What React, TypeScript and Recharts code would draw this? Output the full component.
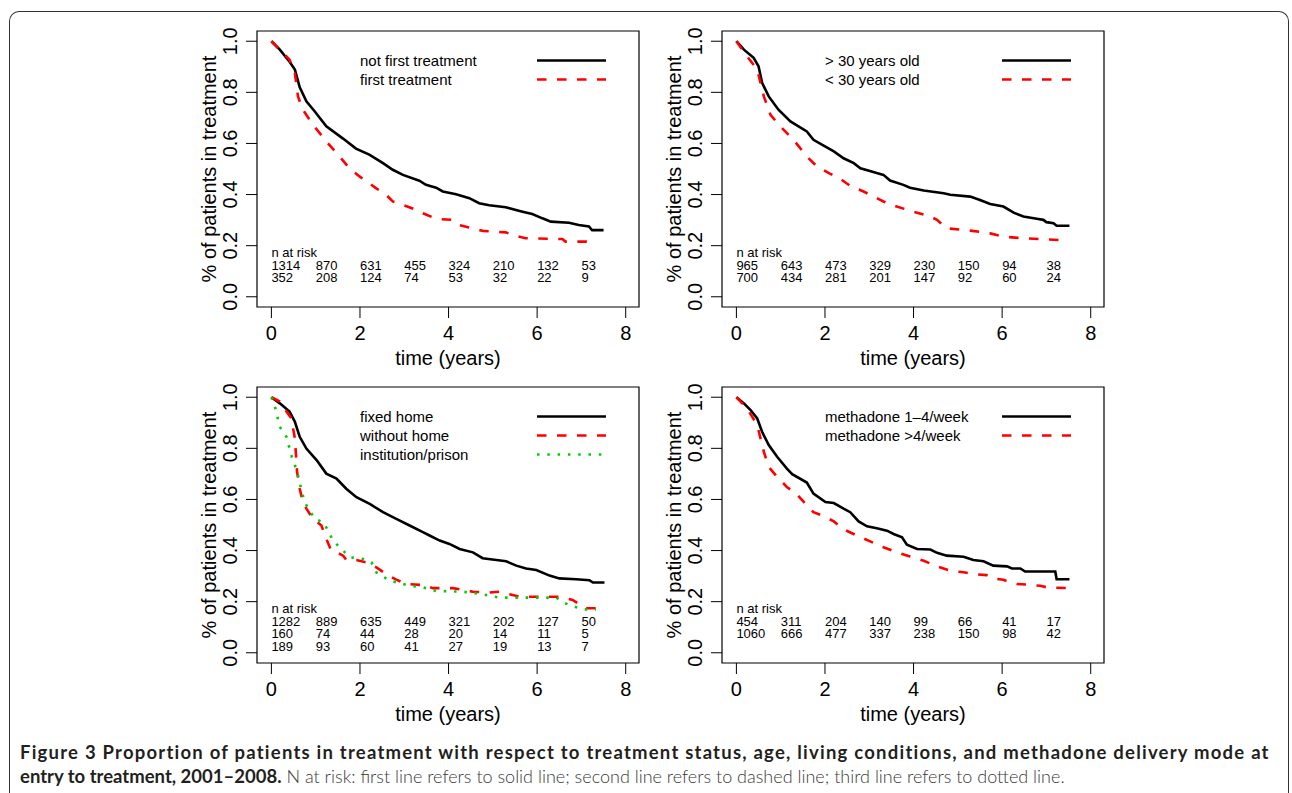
import React from 'react';
import { ComposedChart, Line, Scatter, XAxis, YAxis, Legend, ReferenceArea } from 'recharts';

// Kaplan-Meier curves as [years, proportion] pairs
const notFirstTreatment: [number, number][] = [
  [0, 1], [0.19, 0.967], [0.41, 0.92], [0.53, 0.889], [0.64, 0.82], [0.79, 0.765], [0.98, 0.725],
  [1.24, 0.667], [1.61, 0.62], [1.91, 0.58], [2.21, 0.556], [2.52, 0.523], [2.74, 0.497], [2.97, 0.477],
  [3.34, 0.454], [3.49, 0.438], [3.72, 0.427], [3.87, 0.412], [4.17, 0.401], [4.47, 0.386], [4.69, 0.366],
  [4.92, 0.358], [5.29, 0.35], [5.67, 0.333], [5.89, 0.324], [6.12, 0.307], [6.31, 0.294], [6.72, 0.29],
  [6.94, 0.281], [7.17, 0.275], [7.24, 0.261], [7.5, 0.261],
];
const firstTreatment: [number, number][] = [
  [0, 1], [0.41, 0.928], [0.53, 0.876], [0.6, 0.784], [0.71, 0.732], [0.94, 0.673], [1.24, 0.608],
  [1.54, 0.549], [1.76, 0.503], [1.99, 0.471], [2.21, 0.444], [2.36, 0.425], [2.59, 0.399], [2.74, 0.373],
  [2.97, 0.359], [3.27, 0.34], [3.42, 0.327], [3.72, 0.305], [4.09, 0.301], [4.24, 0.281], [4.54, 0.268],
  [4.77, 0.258], [5.29, 0.252], [5.52, 0.238], [5.74, 0.229], [6.57, 0.226], [6.64, 0.216], [7.24, 0.216],
];
const over30: [number, number][] = [
  [0, 1], [0.17, 0.967], [0.39, 0.935], [0.5, 0.902], [0.58, 0.837], [0.73, 0.784], [0.95, 0.732],
  [1.22, 0.686], [1.59, 0.647], [1.74, 0.614], [1.97, 0.591], [2.2, 0.569], [2.42, 0.542], [2.65, 0.523],
  [2.8, 0.503], [3.17, 0.484], [3.32, 0.477], [3.47, 0.455], [3.77, 0.438], [3.92, 0.427], [4.23, 0.416],
  [4.68, 0.405], [4.83, 0.399], [5.28, 0.392], [5.5, 0.379], [5.73, 0.363], [6.03, 0.353], [6.26, 0.329],
  [6.48, 0.314], [6.78, 0.305], [6.93, 0.301], [7.0, 0.292], [7.16, 0.288], [7.23, 0.278], [7.52, 0.278],
];
const under30: [number, number][] = [
  [0, 1], [0.24, 0.941], [0.47, 0.889], [0.62, 0.784], [0.77, 0.712], [0.99, 0.667], [1.29, 0.614],
  [1.59, 0.549], [1.82, 0.51], [2.12, 0.481], [2.27, 0.471], [2.57, 0.434], [2.87, 0.412], [3.02, 0.399],
  [3.32, 0.373], [3.62, 0.353], [4.0, 0.333], [4.38, 0.314], [4.53, 0.301], [4.75, 0.268], [5.28, 0.259],
  [5.73, 0.248], [6.03, 0.235], [6.48, 0.229], [7.31, 0.222], [7.5, 0.216],
];
const fixedHome: [number, number][] = [
  [0, 1], [0.19, 0.976], [0.41, 0.944], [0.53, 0.904], [0.64, 0.845], [0.79, 0.799], [1.02, 0.754],
  [1.24, 0.701], [1.47, 0.682], [1.69, 0.642], [1.92, 0.609], [2.22, 0.583], [2.52, 0.55], [2.82, 0.524],
  [3.12, 0.498], [3.42, 0.472], [3.57, 0.459], [3.8, 0.439], [4.02, 0.426], [4.25, 0.406], [4.55, 0.393],
  [4.77, 0.37], [5.08, 0.363], [5.3, 0.358], [5.53, 0.341], [5.75, 0.33], [5.98, 0.324], [6.28, 0.302],
  [6.5, 0.291], [6.88, 0.288], [7.18, 0.284], [7.26, 0.275], [7.52, 0.275],
];
const withoutHome: [number, number][] = [
  [0, 1], [0.19, 0.983], [0.34, 0.944], [0.45, 0.917], [0.53, 0.839], [0.58, 0.708], [0.64, 0.642],
  [0.71, 0.59], [0.79, 0.564], [0.94, 0.524], [1.13, 0.498], [1.24, 0.446], [1.35, 0.4], [1.47, 0.393],
  [1.62, 0.38], [1.69, 0.364], [1.92, 0.363], [2.14, 0.354], [2.37, 0.334], [2.59, 0.308], [2.82, 0.286],
  [3.05, 0.269], [3.42, 0.265], [3.65, 0.253], [4.1, 0.253], [4.55, 0.239], [4.92, 0.236], [5.15, 0.239],
  [5.38, 0.229], [5.6, 0.219], [6.5, 0.219], [6.8, 0.207], [7.1, 0.174], [7.33, 0.174],
];
const institutionPrison: [number, number][] = [
  [0, 1], [0.08, 0.963], [0.19, 0.884], [0.34, 0.845], [0.45, 0.773], [0.53, 0.734], [0.6, 0.695],
  [0.68, 0.636], [0.75, 0.59], [0.86, 0.557], [0.98, 0.524], [1.17, 0.511], [1.28, 0.478], [1.39, 0.439],
  [1.54, 0.413], [1.77, 0.374], [2.07, 0.367], [2.26, 0.354], [2.37, 0.315], [2.67, 0.282], [2.89, 0.273],
  [3.12, 0.262], [3.42, 0.256], [3.72, 0.242], [4.32, 0.239], [4.77, 0.229], [5.15, 0.216], [6.43, 0.216],
  [6.58, 0.197], [6.8, 0.183], [7.03, 0.17], [7.33, 0.17],
];
const methadone1to4: [number, number][] = [
  [0, 1], [0.17, 0.976], [0.32, 0.95], [0.47, 0.917], [0.58, 0.865], [0.73, 0.813], [0.92, 0.767],
  [1.14, 0.721], [1.26, 0.699], [1.59, 0.666], [1.74, 0.623], [2.01, 0.59], [2.2, 0.586], [2.42, 0.564],
  [2.57, 0.55], [2.76, 0.514], [2.95, 0.495], [3.17, 0.487], [3.4, 0.478], [3.55, 0.465], [3.74, 0.452],
  [3.85, 0.423], [4.08, 0.406], [4.38, 0.404], [4.53, 0.391], [4.75, 0.38], [5.13, 0.376], [5.35, 0.363],
  [5.58, 0.358], [5.8, 0.341], [6.11, 0.338], [6.22, 0.33], [6.41, 0.33], [6.52, 0.318], [7.2, 0.318],
  [7.23, 0.288], [7.52, 0.288],
];
const methadoneOver4: [number, number][] = [
  [0, 1], [0.24, 0.957], [0.47, 0.891], [0.62, 0.786], [0.73, 0.727], [0.92, 0.688], [1.14, 0.649],
  [1.37, 0.619], [1.59, 0.577], [1.74, 0.55], [1.97, 0.535], [2.2, 0.514], [2.42, 0.483], [2.72, 0.459],
  [3.02, 0.436], [3.32, 0.413], [3.62, 0.393], [3.92, 0.377], [4.23, 0.36], [4.53, 0.338], [4.83, 0.321],
  [5.13, 0.315], [5.35, 0.308], [5.65, 0.304], [5.8, 0.291], [6.03, 0.286], [6.18, 0.275], [6.33, 0.269],
  [6.63, 0.266], [6.86, 0.262], [7.01, 0.256], [7.52, 0.253],
];

// numbers at risk, one column per year 0..7
const riskYears = [0, 1, 2, 3, 4, 5, 6, 7];
const riskNotFirst = [1314, 870, 631, 455, 324, 210, 132, 53];
const riskFirst = [352, 208, 124, 74, 53, 32, 22, 9];
const riskOver30 = [965, 643, 473, 329, 230, 150, 94, 38];
const riskUnder30 = [700, 434, 281, 201, 147, 92, 60, 24];
const riskFixedHome = [1282, 889, 635, 449, 321, 202, 127, 50];
const riskWithoutHome = [160, 74, 44, 28, 20, 14, 11, 5];
const riskInstitution = [189, 93, 60, 41, 27, 19, 13, 7];
const riskMeth1to4 = [454, 311, 204, 140, 99, 66, 41, 17];
const riskMethOver4 = [1060, 666, 477, 337, 238, 150, 98, 42];

const xTicks = [0, 2, 4, 6, 8];
const yTicks = [0, 0.2, 0.4, 0.6, 0.8, 1.0];

const FONT = '"Liberation Sans", Arial, Helvetica, sans-serif';
const SOLID = { stroke: '#000000', dash: undefined as string | undefined };
const DASHED = { stroke: '#ff0000', dash: '9.5 10.5' };
const DOTTED = { stroke: '#00cc00', dash: '2.5 7.8' };

const X_DOMAIN: [number, number] = [-0.325, 8.3];
const Y_DOMAIN: [number, number] = [-0.04, 1.04];
const BOX_W = 382;
const BOX_H = 276;
const Y_AXIS_W = 70;
const X_AXIS_H = 65;
const M_TOP = 5;
const M_RIGHT = 5;

type Series = { name: string; points: [number, number][]; style: { stroke: string; dash?: string } };
type Panel = { left: number; top: number; series: Series[]; risk: number[][] };

const panels: Panel[] = [
  {
    left: 257, top: 31, risk: [riskNotFirst, riskFirst],
    series: [
      { name: 'not first treatment', points: notFirstTreatment, style: SOLID },
      { name: 'first treatment', points: firstTreatment, style: DASHED },
    ],
  },
  {
    left: 722, top: 31, risk: [riskOver30, riskUnder30],
    series: [
      { name: '> 30 years old', points: over30, style: SOLID },
      { name: '< 30 years old', points: under30, style: DASHED },
    ],
  },
  {
    left: 257, top: 387, risk: [riskFixedHome, riskWithoutHome, riskInstitution],
    series: [
      { name: 'fixed home', points: fixedHome, style: SOLID },
      { name: 'without home', points: withoutHome, style: DASHED },
      { name: 'institution/prison', points: institutionPrison, style: DOTTED },
    ],
  },
  {
    left: 722, top: 387, risk: [riskMeth1to4, riskMethOver4],
    series: [
      { name: 'methadone 1\u20134/week', points: methadone1to4, style: SOLID },
      { name: 'methadone >4/week', points: methadoneOver4, style: DASHED },
    ],
  },
];

const XTick = (props: any) => {
  const { x, y, payload } = props;
  return (
    <text x={x} y={y + 15} textAnchor="middle" dominantBaseline="central" fontSize={20} fill="#000" fontFamily={FONT}>
      {payload.value}
    </text>
  );
};

const YTick = (props: any) => {
  const { x, y, payload } = props;
  const cx = x - 16;
  return (
    <text x={cx} y={y} transform={`rotate(-90 ${cx} ${y})`} textAnchor="middle" dominantBaseline="central"
      fontSize={20} fill="#000" fontFamily={FONT}>
      {Number(payload.value).toFixed(1)}
    </text>
  );
};

const RiskText = (props: any) => {
  const { cx, cy, payload } = props;
  return (
    <text x={cx} y={cy} dominantBaseline="central" fontSize={13} fill="#000" fontFamily={FONT}>
      {payload.label}
    </text>
  );
};

const LegendBox = ({ series }: { series: Series[] }) => (
  <div style={{ fontFamily: FONT, fontSize: 15, color: '#000' }}>
    {series.map((s) => (
      <div key={s.name} style={{ display: 'flex', alignItems: 'center', height: 19, whiteSpace: 'nowrap' }}>
        <span style={{ width: 177, display: 'inline-block' }}>{s.name}</span>
        <svg width={69} height={19}>
          <line x1={0} x2={69} y1={9.5} y2={9.5} stroke={s.style.stroke} strokeWidth={2.6} strokeDasharray={s.style.dash} />
        </svg>
      </div>
    ))}
  </div>
);

const buildRisk = (rows: number[][]) => [
  { t: 0, v: 0.174, label: 'n at risk' },
  ...rows.flatMap((row, r) => row.map((n, i) => ({ t: riskYears[i], v: 0.124 - 0.05 * r, label: String(n) }))),
];

const KMPanel = ({ panel }: { panel: Panel }) => {
  const width = Y_AXIS_W + BOX_W + M_RIGHT;
  const height = M_TOP + BOX_H + X_AXIS_H;
  return (
    <div style={{ position: 'absolute', left: panel.left - Y_AXIS_W, top: panel.top - M_TOP }}>
      <ComposedChart width={width} height={height} margin={{ top: M_TOP, right: M_RIGHT, bottom: 0, left: 0 }}>
        <XAxis type="number" dataKey="t" domain={X_DOMAIN} ticks={xTicks} allowDataOverflow
          axisLine={false} tickLine={{ stroke: '#000' }} tickSize={11} tickMargin={0} tick={<XTick />}
          height={X_AXIS_H} interval={0}
          label={{
            content: (p: any) => {
              const vb = p.viewBox || {};
              return (
                <text x={vb.x + vb.width / 2} y={vb.y + 51} textAnchor="middle" dominantBaseline="central"
                  fontSize={20} fill="#000" fontFamily={FONT}>time (years)</text>
              );
            },
          }} />
        <YAxis type="number" domain={Y_DOMAIN} ticks={yTicks} allowDataOverflow width={Y_AXIS_W}
          axisLine={false} tickLine={{ stroke: '#000' }} tickSize={11} tickMargin={0} tick={<YTick />} interval={0}
          label={{
            content: (p: any) => {
              const vb = p.viewBox || {};
              const cx = vb.x + vb.width - 48;
              const cy = vb.y + vb.height / 2;
              return (
                <text x={cx} y={cy} transform={`rotate(-90 ${cx} ${cy})`} textAnchor="middle" dominantBaseline="central"
                  fontSize={20} fill="#000" fontFamily={FONT}>% of patients in treatment</text>
              );
            },
          }} />
        <ReferenceArea x1={X_DOMAIN[0]} x2={X_DOMAIN[1]} y1={Y_DOMAIN[0]} y2={Y_DOMAIN[1]}
          fill="none" fillOpacity={0} stroke="#000" strokeWidth={1.2} ifOverflow="visible" />
        {panel.series.map((s) => (
          <Line key={s.name} name={s.name} data={s.points.map(([t, v]) => ({ t, v }))} dataKey="v"
            type="linear" stroke={s.style.stroke} strokeWidth={2.6} strokeDasharray={s.style.dash}
            dot={false} activeDot={false} isAnimationActive={false} />
        ))}
        <Scatter data={buildRisk(panel.risk)} dataKey="v" shape={<RiskText />} isAnimationActive={false} />
        <Legend layout="vertical" align="center" verticalAlign="middle"
          wrapperStyle={{ left: 173, top: 25, width: 260, height: 'auto' }}
          content={() => <LegendBox series={panel.series} />} />
      </ComposedChart>
    </div>
  );
};

export default function App() {
  return (
    <div style={{ position: 'absolute', left: 0, top: 0, width: 1292, height: 793, background: '#fff', overflow: 'hidden' }}>
      <div style={{
        position: 'absolute', left: 9, top: 11, width: 1278, height: 800,
        borderLeft: '1.5px solid #333', borderTop: '1.5px solid #333', borderRight: '1.5px solid #333',
        borderTopLeftRadius: 10, borderTopRightRadius: 10,
      }} />
      {panels.map((p, i) => <KMPanel key={i} panel={p} />)}
      <div style={{
        position: 'absolute', left: 20, top: 740, width: 1265, fontFamily: 'Lato, "Open Sans", sans-serif',
        fontSize: 18.5, lineHeight: '24px', color: '#231f20', whiteSpace: 'nowrap',
      }}>
        <div style={{ fontWeight: 700, letterSpacing: 1.22 }}>
          Figure 3 Proportion of patients in treatment with respect to treatment status, age, living conditions, and methadone delivery mode at
        </div>
        <div>
          <span style={{ fontWeight: 700 }}>entry to treatment, 2001–2008.</span>
          <span style={{ fontWeight: 300, fontSize: 18, color: '#3a3a3a' }}> N at risk: first line refers to solid line; second line refers to dashed line; third line refers to dotted line.</span>
        </div>
      </div>
    </div>
  );
}
